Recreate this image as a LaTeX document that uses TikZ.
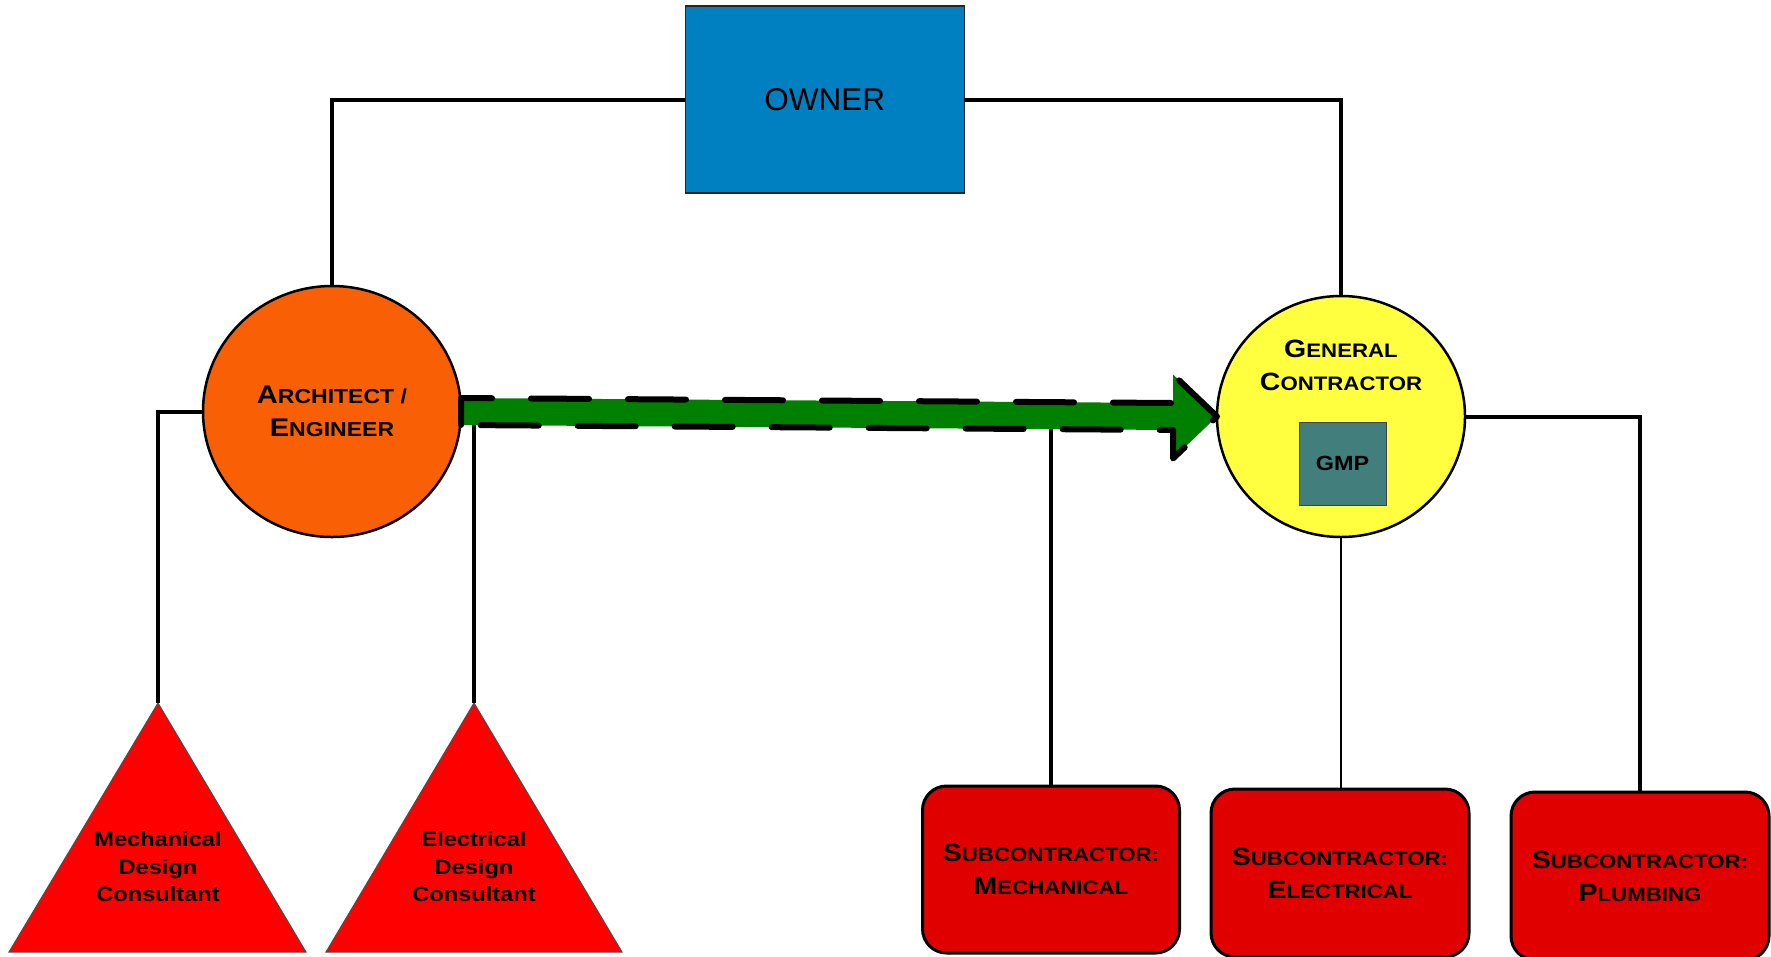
\documentclass[tikz,border=0pt]{standalone}
\usepackage{fontspec}
\setmainfont{Liberation Sans}
\newfontfamily\wfont[FakeStretch=1.14]{Liberation Sans}
\usetikzlibrary{shapes.geometric,calc}
\definecolor{ownerblue}{RGB}{0,128,192}
\definecolor{archorange}{RGB}{249,96,5}
\definecolor{gcyellow}{RGB}{255,255,64}
\definecolor{gmpteal}{RGB}{65,126,124}
\definecolor{subred}{RGB}{224,0,0}
\definecolor{arrowgreen}{RGB}{0,128,0}
\newcommand\capsc[2]{{\fontsize{25}{33}\selectfont #1}{\fontsize{19.5}{33}\selectfont #2}}
\newcommand\capscA[2]{{\fontsize{25.5}{33.4}\selectfont #1}{\fontsize{20.2}{33.4}\selectfont #2}}
\begin{document}
\begin{tikzpicture}[x=1pt,y=-1pt,
  conn/.style={line width=4pt},
  thinconn/.style={line width=2pt},
  ownerbox/.style={rectangle, fill=ownerblue, draw=black!85, line width=1.5pt, minimum width=279pt, minimum height=187pt, inner sep=0pt, outer sep=0pt, font=\fontsize{31.5}{36}\selectfont},
  circ/.style={ellipse, draw=black, line width=2.5pt, inner sep=0pt, outer sep=0pt, align=center, font=\wfont\bfseries\fontsize{25}{33}\selectfont},
  gmpbox/.style={rectangle, fill=gmpteal, draw=black!75, line width=1pt, minimum width=87pt, minimum height=83pt, inner sep=0pt, font=\wfont\bfseries\fontsize{20.5}{24}\selectfont},
  subbox/.style={rectangle, rounded corners=24pt, fill=subred, draw=black, line width=3pt, minimum width=257pt, minimum height=167pt, inner sep=0pt, outer sep=0pt, align=center, font=\wfont\bfseries\fontsize{25}{33}\selectfont},
  tri/.style={fill=red, draw=black!70, line width=1pt},
  tritext/.style={align=center, inner sep=0pt, font=\wfont\bfseries\fontsize{20.7}{27.5}\selectfont},
  arrowfill/.style={fill=arrowgreen},
  arrowedge/.style={draw=black, line width=6pt, dash pattern=on 58pt off 39pt, line cap=round, line join=round}
]
\useasboundingbox (0,0) rectangle (1771,956);

% nodes
\node[ownerbox] (owner) at (824.8,99.5) {OWNER};
\node[circ, fill=archorange, minimum width=258pt, minimum height=251pt] (arch) at (332,411.5) {\capscA{A}{RCHITECT /}\\\capscA{E}{NGINEER}};
\node[circ, fill=gcyellow, minimum width=248pt, minimum height=241pt] (gc) at (1341,416.5) {};
\node[align=center, inner sep=0pt, font=\wfont\bfseries\fontsize{25}{33}\selectfont] (gctext) at (1341,365.5) {\capsc{G}{ENERAL}\\\capsc{C}{ONTRACTOR}};
\node[gmpbox] (gmp) at (1342.5,463.5) {GMP};

\node[subbox] (sub1) at (1051,869.5) {\capsc{S}{UBCONTRACTOR:}\\\capsc{M}{ECHANICAL}};
\node[subbox, minimum width=258pt, minimum height=168pt] (sub2) at (1340,873) {\capsc{S}{UBCONTRACTOR:}\\\capsc{E}{LECTRICAL}};
\node[subbox, minimum width=258pt, minimum height=168pt] (sub3) at (1640,876) {\capsc{S}{UBCONTRACTOR:}\\\capsc{P}{LUMBING}};

% triangles
\coordinate (tri1) at (158,703);
\coordinate (tri2) at (474,703);
\filldraw[tri] (tri1) -- (306,952) -- (9,952) -- cycle;
\filldraw[tri] (tri2) -- (622,952) -- (326,952) -- cycle;
\node[tritext] (mdc) at (158,867) {Mechanical\\Design\\Consultant};
\node[tritext] (edc) at (474,867) {Electrical\\Design\\Consultant};

% connectors
\draw[conn] (owner.west) -| (arch.north);
\draw[conn] (owner.east) -| (gc.north);
\draw[conn] (arch.west) -| (tri1);
\draw[conn] (arch.east) -| (tri2);
\draw[conn] (gc.west) -| (sub1.north);
\draw[thinconn] (gc.south) -- (gc.south |- sub2.north);
\draw[conn] (gc.east) -| (sub3.north);

% big arrow
\path (arch.east) coordinate (a0) (gc.west) coordinate (g0);
\fill[arrowfill] ($(a0)+(0,13.5)$) -- ($(a0)+(0,-13.5)$) -- ($(g0)+(-44,-13.5)$) -- ($(g0)+(-44,-42)$) -- (g0) -- ($(g0)+(-44,42)$) -- ($(g0)+(-44,13.5)$) -- cycle;
\draw[arrowedge] ($(a0)+(0,13.5)$) -- ($(a0)+(0,-13.5)$) -- ($(g0)+(-44,-13.5)$) -- ($(g0)+(-44,-42)$) -- (g0) -- ($(g0)+(-44,42)$) -- ($(g0)+(-44,13.5)$) -- cycle;
\end{tikzpicture}
\end{document}
